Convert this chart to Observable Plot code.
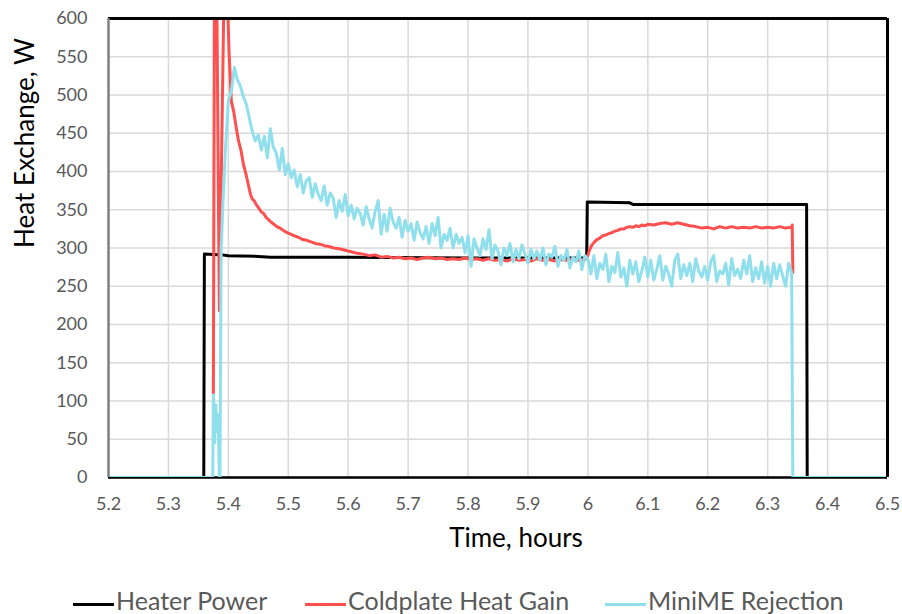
<!DOCTYPE html>
<html>
<head>
<meta charset="utf-8">
<script src="https://cdn.jsdelivr.net/npm/d3@7"></script>
<script src="https://cdn.jsdelivr.net/npm/@observablehq/plot@0.6"></script>
<style>
  body { margin: 0; background: #fff; }
  #wrap { position: relative; width: 902px; height: 614px; overflow: hidden; font-family: Lato, "Open Sans", sans-serif; }
  #legend { position: absolute; left: 0; top: 580px; width: 902px; height: 34px; }
  .item { position: absolute; top: 6px; height: 28px; line-height: 28px; font-size: 25px; color: #595959; white-space: nowrap; }
  .sw { display: inline-block; width: 41px; height: 3px; vertical-align: middle; margin-right: 2px; position: relative; top: 1px; }
</style>
</head>
<body>
<div id="wrap"></div>
<script>
// ---- Data ----
const seriesNames = ["Heater Power", "Coldplate Heat Gain", "MiniME Rejection"];
const seriesColors = ["#000000", "#FF5050", "#8FE0EC"];
const xTicks = [5.2, 5.3, 5.4, 5.5, 5.6, 5.7, 5.8, 5.9, 6, 6.1, 6.2, 6.3, 6.4, 6.5];
const yTicks = [0, 50, 100, 150, 200, 250, 300, 350, 400, 450, 500, 550, 600];

// Heater Power (time h, W)
const heaterT = [5.2, 5.359, 5.360, 5.39, 5.40, 5.45, 5.47, 5.60, 5.80, 5.998, 5.999, 6.07, 6.075, 6.365, 6.366, 6.5];
const heaterW = [0,   0,     292,   291,  290,  289,  288,  288,  287,  287,   360,   359,  357,   357,   0,     0];

// Coldplate Heat Gain (time h, W)
const coldT = [5.375, 5.377, 5.380, 5.385, 5.393, 5.396, 5.401, 5.405, 5.409, 5.413, 5.417, 5.421, 5.425, 5.429, 5.433, 5.437,
  5.440, 5.443, 5.447, 5.451, 5.455, 5.459, 5.463, 5.467, 5.471, 5.476, 5.481, 5.486, 5.492, 5.498, 5.504, 5.510,
  5.517, 5.524, 5.531, 5.538, 5.545, 5.553, 5.560, 5.568, 5.576, 5.585, 5.595, 5.605, 5.615, 5.625, 5.635, 5.645,
  5.655, 5.665, 5.675, 5.685, 5.695, 5.705, 5.715, 5.725, 5.735, 5.745, 5.755, 5.765, 5.775, 5.785, 5.795, 5.805,
  5.815, 5.825, 5.835, 5.845, 5.855, 5.865, 5.875, 5.885, 5.895, 5.905, 5.915, 5.925, 5.935, 5.945, 5.955, 5.965,
  5.975, 5.985, 5.995, 5.999, 6.002, 6.006, 6.010, 6.015, 6.020, 6.025, 6.030, 6.035, 6.040, 6.045, 6.050, 6.055,
  6.060, 6.065, 6.070, 6.075, 6.080, 6.085, 6.090, 6.095, 6.100, 6.110, 6.120, 6.130, 6.140, 6.150, 6.160, 6.170,
  6.180, 6.190, 6.200, 6.210, 6.220, 6.230, 6.240, 6.250, 6.260, 6.270, 6.280, 6.290, 6.300, 6.310, 6.320, 6.330,
  6.340, 6.341, 6.342];
const coldW = [110, 700, 700, 218, 650, 700, 560, 492, 478, 458, 440, 428, 410, 398, 384, 370,
  364, 362, 356, 352, 347, 345, 340, 337, 334, 331, 328, 326, 323, 320, 318, 316,
  314, 311, 310, 308, 306, 305, 303, 302, 300, 299, 297, 295, 293, 292, 290, 291,
  288, 289, 287, 288, 286, 287, 285, 287, 288, 286, 287, 285, 286, 285, 287, 285,
  286, 284, 286, 284, 285, 283, 286, 284, 285, 283, 286, 284, 285, 283, 285, 284,
  286, 284, 285, 288, 296, 303, 307, 311, 313, 316, 317, 319, 320, 322, 323, 325,
  325, 327, 328, 327, 329, 328, 330, 329, 331, 330, 332, 333, 331, 333, 331, 329,
  328, 326, 327, 325, 328, 326, 328, 326, 327, 326, 328, 326, 327, 326, 328, 326,
  327, 330, 268];

// MiniME Rejection: start-up transient (time h, W)
const miniHeadT = [5.2, 5.374, 5.375, 5.377, 5.379, 5.381, 5.383, 5.385, 5.386, 5.388, 5.391, 5.395, 5.400, 5.405, 5.410];
const miniHeadW = [0,   0,     108,   45,    95,    60,    82,    0,     0,     297,   360,   427,   492,   505,   536];
// MiniME Rejection: sampled every 0.005 h from 5.415 h to 6.340 h (W)
const miniStart = 5.415, miniStep = 0.005;
const miniW = [
  520,512,498,488,470,452,440,448,428,446,
  418,456,432,424,402,430,396,410,392,402,
  380,396,372,388,392,366,384,370,362,381,
  356,372,365,340,362,348,370,342,356,338,
  352,345,330,354,338,326,348,362,318,344,
  322,352,334,326,340,314,336,322,332,310,
  334,320,312,328,306,332,316,340,300,318,
  310,326,300,318,306,314,294,316,276,312,
  300,290,312,298,324,286,304,296,278,300,
  290,306,282,298,286,304,292,280,298,286,
  296,284,300,278,292,288,302,276,290,284,
  298,274,288,282,296,272,290,286,266,290,
  260,280,272,292,256,276,268,294,262,274,
  250,284,266,282,256,270,288,262,284,258,
  272,290,258,276,266,250,284,292,260,278,
  264,280,256,286,270,262,276,258,282,290,
  256,270,266,280,252,286,264,272,260,284,
  266,290,256,274,260,282,254,276,250,280,
  260,278,264,250,280,268];
// MiniME Rejection: shutdown (time h, W)
const miniTailT = [6.342, 6.5];
const miniTailW = [0, 0];

// ---- Build tables ----
const heater = heaterT.map((t, i) => ({t, w: heaterW[i]}));
const cold = coldT.map((t, i) => ({t, w: coldW[i]}));
const mini = [
  ...miniHeadT.map((t, i) => ({t, w: miniHeadW[i]})),
  ...miniW.map((w, i) => ({t: miniStart + i * miniStep, w})),
  ...miniTailT.map((t, i) => ({t, w: miniTailW[i]}))
];

const chart = Plot.plot({
  width: 902,
  height: 580,
  marginLeft: 108,
  marginRight: 15,
  marginTop: 18,
  marginBottom: 103,
  style: {fontFamily: "Lato, 'Open Sans', sans-serif", color: "#595959", background: "#fff"},
  x: {domain: [5.2, 6.5]},
  y: {domain: [0, 600]},
  marks: [
    Plot.gridX(xTicks, {stroke: "#d9d9d9", strokeOpacity: 1, strokeWidth: 1.5}),
    Plot.gridY(yTicks, {stroke: "#d9d9d9", strokeOpacity: 1, strokeWidth: 1.5}),
    Plot.axisX(xTicks, {tickSize: 0, tickPadding: 20, fontSize: 18, label: null, tickFormat: d => String(d)}),
    Plot.axisY(yTicks, {tickSize: 0, tickPadding: 21, fontSize: 18, label: null}),
    Plot.ruleY([0], {stroke: "#000", strokeWidth: 2.5}),
    Plot.line(heater, {x: "t", y: "w", stroke: seriesColors[0], strokeWidth: 3, clip: true}),
    Plot.line(cold, {x: "t", y: "w", stroke: seriesColors[1], strokeWidth: 3, clip: true}),
    Plot.line(mini, {x: "t", y: "w", stroke: seriesColors[2], strokeWidth: 3, clip: true}),
    Plot.ruleY([600], {stroke: "#000", strokeWidth: 3}),
    Plot.ruleX([6.5], {stroke: "#000", strokeWidth: 3}),
    Plot.ruleX([5.2], {stroke: "#808080", strokeWidth: 2.5}),
    Plot.text(["Time, hours"], {frameAnchor: "bottom", dx: 18, dy: 69, fontSize: 26, fill: "#000"}),
    Plot.text(["Heat Exchange, W"], {frameAnchor: "left", dx: -83, rotate: -90, fontSize: 26, fill: "#000"})
  ]
});

const wrap = document.getElementById("wrap");
wrap.appendChild(chart);

const legend = document.createElement("div");
legend.id = "legend";
const lefts = [73, 305, 605];
seriesNames.forEach((name, i) => {
  const it = document.createElement("div");
  it.className = "item";
  it.style.left = lefts[i] + "px";
  const sw = document.createElement("span");
  sw.className = "sw";
  sw.style.background = seriesColors[i];
  it.appendChild(sw);
  it.appendChild(document.createTextNode(name));
  legend.appendChild(it);
});
wrap.appendChild(legend);
</script>
</body>
</html>
